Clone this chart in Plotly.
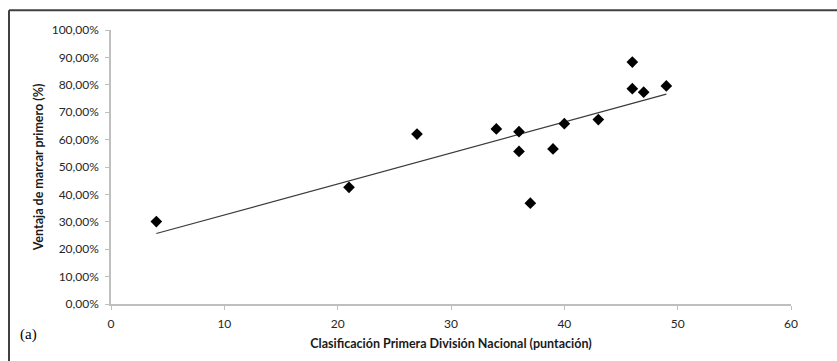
import numpy as np
import plotly.graph_objects as go

# League points (x) and share of matches won after scoring first (y, %)
puntos = [4, 21, 27, 34, 36, 36, 37, 39, 40, 43, 46, 46, 47, 49]
ventaja = [30.1, 42.6, 62.0, 63.9, 62.9, 55.7, 36.8, 56.6, 65.8, 67.3, 88.3, 78.6, 77.3, 79.6]

x_ticks = [0, 10, 20, 30, 40, 50, 60]
y_ticks = [0, 10, 20, 30, 40, 50, 60, 70, 80, 90, 100]
y_labels = [f"{v:.2f}".replace(".", ",") + "%" for v in y_ticks]

# Linear trend line (least squares) over the data range
pend, orden = np.polyfit(puntos, ventaja, 1)
x_tr = [min(puntos), max(puntos)]
y_tr = [pend * v + orden for v in x_tr]

fig = go.Figure()
fig.add_trace(go.Scatter(
    x=x_tr, y=y_tr, mode="lines",
    line=dict(color="#3a3a3a", width=1.2),
    hoverinfo="skip", showlegend=False,
))
fig.add_trace(go.Scatter(
    x=puntos, y=ventaja, mode="markers",
    marker=dict(symbol="diamond", size=9, color="black"),
    showlegend=False,
))

axis_font = dict(family="Lato, 'Open Sans', sans-serif", size=12, color="#262626")
title_font = dict(family="Lato, 'Open Sans', sans-serif", size=12.5, color="#1a1a1a")

fig.update_layout(
    width=837, height=361,
    margin=dict(l=111, r=46, t=30, b=55),
    paper_bgcolor="white", plot_bgcolor="white",
    xaxis=dict(
        range=[0, 60], tickvals=x_ticks, showgrid=False, zeroline=False,
        showline=True, linecolor="#bfbfbf", linewidth=1.5,
        ticks="outside", ticklen=4, tickcolor="#bfbfbf",
        tickfont=axis_font, ticklabelstandoff=4,
        title=dict(text="<b>Clasificación Primera División Nacional (puntación)</b>",
                   font=title_font, standoff=9),
    ),
    yaxis=dict(
        range=[0, 100], tickvals=y_ticks, ticktext=y_labels,
        showgrid=False, zeroline=False,
        showline=True, linecolor="#bfbfbf", linewidth=1.5,
        ticks="outside", ticklen=4, tickcolor="#bfbfbf",
        tickfont=axis_font, ticklabelstandoff=4,
        title=dict(text="<b>Ventaja de marcar primero (%)</b>",
                   font=title_font, standoff=5),
    ),
    annotations=[dict(
        text="(a)", xref="paper", yref="paper",
        x=-0.122, y=-0.113, xanchor="center", yanchor="middle",
        showarrow=False,
        font=dict(family="'Liberation Serif', 'DejaVu Serif', serif", size=15, color="black"),
    )],
    shapes=[
        # frame around the figure: left and top edges
        dict(type="line", xref="paper", yref="paper",
             x0=-0.15, x1=-0.15, y0=1.0725, y1=-0.25,
             line=dict(color="#404040", width=2)),
        dict(type="line", xref="paper", yref="paper",
             x0=-0.15, x1=1.1, y0=1.0725, y1=1.0725,
             line=dict(color="#404040", width=2)),
    ],
)

fig.write_html("out.html")
